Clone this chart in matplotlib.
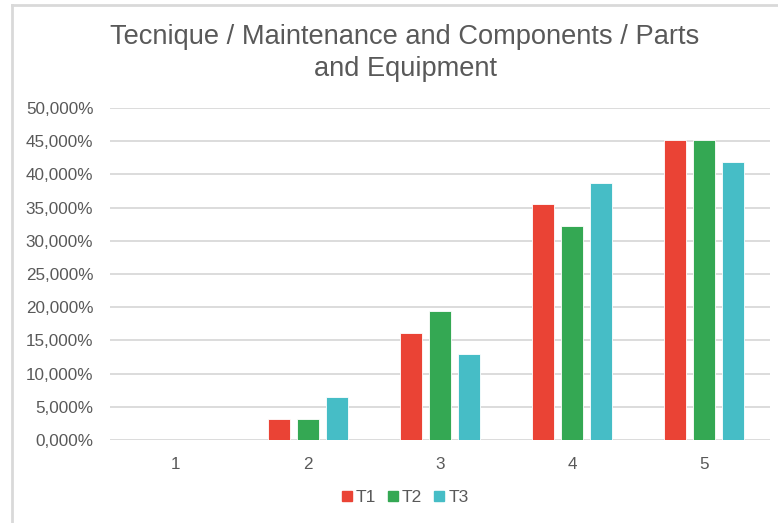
import matplotlib
matplotlib.use("Agg")
import matplotlib.pyplot as plt
from matplotlib.lines import Line2D
from matplotlib.ticker import FuncFormatter
import numpy as np

plt.rcParams['font.family'] = ['Liberation Sans', 'DejaVu Sans']

categories = ["1", "2", "3", "4", "5"]
series_names = ["T1", "T2", "T3"]
t1 = [0.0, 3.226, 16.129, 35.484, 45.161]
t2 = [0.0, 3.226, 19.355, 32.258, 45.161]
t3 = [0.0, 6.452, 12.903, 38.710, 41.935]
colors = ["#EA4335", "#34A853", "#46BDC6"]
title = "Tecnique / Maintenance and Components / Parts\nand Equipment"

W, H = 778, 523
fig = plt.figure(figsize=(W / 100, H / 100), dpi=100)
ax = fig.add_axes([110 / W, 1 - 440 / H, 660 / W, 332 / H])

x = np.arange(1, len(categories) + 1)
bar_w = 0.171
step = 0.221
for i, (vals, c, name) in enumerate(zip([t1, t2, t3], colors, series_names)):
    ax.bar(x + (i - 1) * step, np.array(vals) / 100, width=bar_w, color=c,
           edgecolor="white", linewidth=0.6, label=name, zorder=3)

ax.set_xlim(0.5, 5.5)
ax.set_ylim(0, 0.5)
ax.set_yticks(np.arange(0, 0.5001, 0.05))
ax.yaxis.set_major_formatter(FuncFormatter(
    lambda v, _: f"{v * 100:.3f}%".replace(".", ",")))
ax.set_xticks(x)
ax.set_xticklabels(categories)
ax.grid(axis="y", color="#d9d9d9", linewidth=1.3, zorder=0)
for s in ax.spines.values():
    s.set_visible(False)
ax.tick_params(axis="both", length=0, labelsize=12.3, colors="#595959")
ax.tick_params(axis="y", pad=12)
ax.tick_params(axis="x", pad=12)

fig.text(405 / W, 1 - 53 / H, title, ha="center", va="center",
         fontsize=19.6, color="#595959", linespacing=1.25)

handles = [Line2D([], [], marker="s", linestyle="none", markersize=7,
                  markerfacecolor=c, markeredgecolor=c) for c in colors]
fig.legend(handles, series_names, loc="center", bbox_to_anchor=(405 / W, 1 - 497 / H),
           ncol=3, frameon=False, fontsize=12.5, labelcolor="#595959",
           handletextpad=0.2, columnspacing=0.7, handlelength=0.6)

# chart frame edges
fig.add_artist(Line2D([12 / W, 1], [1 - 5 / H, 1 - 5 / H], color="#d9d9d9",
                      linewidth=2, transform=fig.transFigure))
fig.add_artist(Line2D([12 / W, 12 / W], [0, 1 - 5 / H], color="#d9d9d9",
                      linewidth=2, transform=fig.transFigure))

fig.savefig("out.png", dpi=100, facecolor="white")
